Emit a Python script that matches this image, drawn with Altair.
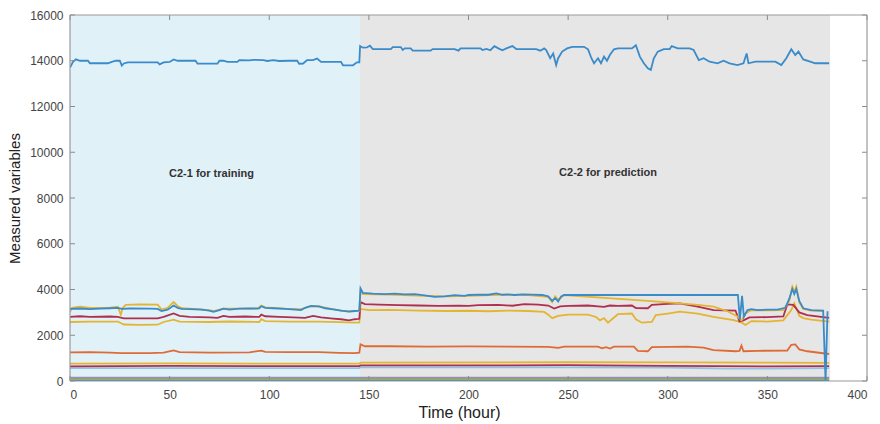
import altair as alt
import pandas as pd

# ---------------- data ----------------
# top blue series (~14000)
s1_t = [0, 1.5, 3, 5, 9, 10, 19, 21, 23, 25, 26, 27, 29, 44, 45, 47, 50, 52, 54, 63, 64, 74, 75, 77, 79, 84, 85, 90, 92, 97, 99, 102, 105, 110, 114, 115, 117, 119, 122, 124, 126, 136, 137, 142, 144, 145.2, 145.6, 147, 149, 150.5, 152, 161, 162, 166, 167, 168, 171, 172, 181, 182, 193, 195, 196, 206, 207, 209, 211, 213, 215, 217, 219, 222, 224, 234, 236, 238, 239, 241, 242.5, 244, 245, 247, 249.5, 252, 258, 260, 261.7, 263, 265, 266.5, 268, 269.5, 271, 273, 275, 282, 284, 286, 288, 290, 291.5, 293, 295, 298, 301, 302, 305, 311, 313, 315.6, 318, 321, 325, 328, 331, 335, 338, 339.6, 340.5, 344, 354, 357, 359.5, 362, 364, 365.6, 368, 371.5, 374, 381]
s1_v = [13700, 13950, 14060, 14000, 14000, 13890, 13890, 13950, 14000, 14000, 13790, 13880, 13930, 13930, 13840, 13930, 13950, 14060, 14000, 14000, 13870, 13870, 14000, 14000, 13950, 13950, 14030, 14020, 14040, 14030, 13990, 14030, 13990, 14000, 14000, 13870, 13880, 14030, 14030, 14100, 13950, 13950, 13800, 13800, 13930, 13930, 14640, 14570, 14580, 14660, 14510, 14510, 14600, 14600, 14470, 14540, 14540, 14440, 14440, 14510, 14510, 14440, 14540, 14540, 14470, 14520, 14460, 14640, 14540, 14460, 14540, 14640, 14510, 14510, 14440, 14540, 14470, 14110, 14320, 13810, 14110, 14400, 14540, 14610, 14610, 14500, 14110, 13890, 14110, 13890, 14180, 14000, 14260, 14500, 14540, 14540, 14680, 14180, 13890, 13670, 13600, 14110, 14400, 14510, 14510, 14640, 14540, 14540, 14470, 14030, 14110, 13960, 13890, 14000, 13890, 13810, 13890, 14320, 13890, 13960, 13960, 13810, 14110, 14500, 14250, 14400, 14060, 13960, 13890, 13890]

# blue series (~3150 / 3800)
s2_t = [0, 5, 10, 15, 20, 24, 26, 30, 40, 44, 46, 49, 52, 54, 56, 60, 66, 70, 72, 75, 77, 80, 85, 90, 95, 96, 98, 102, 108, 113, 116, 118, 121, 125, 128, 132, 136, 140, 143, 145.2, 145.8, 147, 152, 158, 163, 168, 173, 178, 183, 188, 193, 198, 200, 205, 210, 214, 217, 220, 223, 227, 232, 237, 240, 242, 243.5, 245, 246.5, 248, 335.2, 336.2, 337.3, 338.2, 340, 342, 345, 350, 355, 359, 361, 362.5, 363.5, 364.5, 366, 368, 372, 378, 379.2, 380.2]
s2_v = [3150, 3170, 3140, 3160, 3180, 3200, 3150, 3170, 3160, 3150, 3060, 3120, 3300, 3200, 3150, 3140, 3120, 3080, 3020, 3100, 3160, 3120, 3160, 3170, 3180, 3270, 3200, 3180, 3150, 3120, 3100, 3200, 3280, 3260, 3180, 3130, 3080, 3030, 3060, 3080, 4050, 3850, 3820, 3800, 3820, 3790, 3800, 3740, 3680, 3700, 3750, 3720, 3760, 3780, 3770, 3830, 3770, 3790, 3760, 3790, 3780, 3760, 3700, 3500, 3620, 3480, 3700, 3760, 3760, 2680, 3720, 2800, 3100, 3140, 3100, 3120, 3120, 3200, 3600, 4020, 3800, 4020, 3500, 3180, 3100, 3080, 0, 3050]

# upper yellow series
s3_t = [0, 1, 5, 10, 20, 24, 25.5, 26.5, 28, 35, 44, 46, 49, 52, 54, 56, 66, 72, 77, 90, 94, 96, 98, 108, 116, 120, 125, 130, 136, 140, 145.2, 145.8, 147, 160, 178, 190, 200, 215, 230, 240, 242, 243.5, 245, 246.5, 248, 270, 290, 306, 315, 323, 330, 335, 337, 339, 342, 350, 358, 361, 362.5, 363.5, 364.5, 366, 368, 372, 378]
s3_v = [3020, 3200, 3250, 3200, 3210, 3250, 2900, 3200, 3330, 3350, 3340, 3120, 3200, 3450, 3280, 3180, 3130, 3060, 3160, 3160, 3150, 3300, 3220, 3160, 3140, 3250, 3260, 3170, 3080, 3050, 3070, 3950, 3800, 3780, 3720, 3700, 3720, 3770, 3750, 3680, 3450, 3700, 3550, 3650, 3760, 3620, 3500, 3390, 3330, 3250, 3050, 2820, 2650, 2950, 3100, 3090, 3100, 3500, 4120, 3900, 4120, 3450, 3150, 3080, 3060]

# red series (~2800 / 3300)
s4_t = [0, 5, 10, 20, 24, 27, 35, 44, 47, 52, 55, 60, 70, 74, 77, 80, 88, 95, 96, 98, 105, 112, 118, 122, 126, 132, 136, 140, 143, 145.2, 145.8, 148, 155, 165, 175, 185, 195, 200, 205, 215, 222, 228, 235, 240, 243, 246, 250, 260, 265, 268, 271, 275, 282, 284, 290, 292, 300, 306, 315, 323, 334, 336, 338, 341, 350, 358, 360, 363, 366, 370, 381]
s4_v = [2800, 2830, 2800, 2820, 2800, 2740, 2740, 2740, 2800, 2950, 2850, 2800, 2780, 2760, 2850, 2800, 2820, 2800, 2900, 2830, 2800, 2780, 2760, 2850, 2780, 2730, 2700, 2650, 2700, 2720, 3450, 3360, 3340, 3320, 3300, 3280, 3290, 3280, 3320, 3330, 3290, 3360, 3340, 3300, 3170, 3260, 3280, 3300, 3260, 3240, 3300, 3280, 3300, 3190, 3180, 3330, 3370, 3390, 3250, 3100, 3080, 2600, 2650, 2780, 2790, 2820, 3350, 3330, 3000, 2880, 2760]

# lower yellow series (~2600 / 3100)
s5_t = [0, 10, 24, 27, 35, 44, 47, 52, 55, 70, 80, 95, 96, 98, 110, 125, 135, 143, 145.2, 145.8, 150, 160, 175, 190, 200, 210, 220, 230, 238, 240, 242, 245, 250, 260, 264, 266, 268, 270, 272, 275, 282, 284, 287, 292, 294, 300, 306, 315, 323, 333, 337, 339, 342, 350, 358, 362, 363.5, 364.5, 366, 368, 372, 381]
s5_v = [2580, 2600, 2600, 2470, 2450, 2460, 2580, 2680, 2600, 2580, 2600, 2580, 2700, 2620, 2600, 2600, 2570, 2550, 2560, 3150, 3100, 3110, 3080, 3060, 3070, 3050, 3080, 3060, 3020, 2900, 2750, 2850, 2900, 2900, 2800, 2650, 2750, 2550, 2700, 2920, 2950, 2700, 2550, 2580, 2880, 2950, 3030, 2950, 2800, 2660, 2560, 2450, 2620, 2600, 2650, 3100, 3400, 3200, 2850, 2750, 2680, 2600]

# orange series (~1250 / 1500)
s6_t = [0, 10, 20, 26, 40, 47, 52, 55, 70, 90, 96, 98, 110, 125, 135, 143, 145.2, 145.8, 148, 160, 180, 200, 220, 240, 245, 248, 265, 267, 269, 271, 273, 283, 285, 290, 292, 310, 318, 323, 334, 336, 337, 338, 345, 360, 362, 364, 366, 370, 381]
s6_v = [1250, 1260, 1240, 1220, 1220, 1240, 1340, 1260, 1240, 1250, 1330, 1270, 1260, 1260, 1230, 1220, 1240, 1600, 1520, 1520, 1500, 1510, 1500, 1490, 1450, 1500, 1500, 1430, 1480, 1420, 1500, 1500, 1320, 1300, 1480, 1500, 1460, 1350, 1300, 1320, 1550, 1300, 1320, 1330, 1580, 1600, 1380, 1300, 1180]

# nearly flat series
s7_t = [0, 50, 100, 145.2, 145.8, 250, 300, 350, 381]
s7_v = [760, 770, 760, 760, 800, 820, 810, 800, 790]
s8_t = [0, 50, 100, 145.2, 145.8, 250, 300, 350, 381]
s8_v = [640, 660, 650, 650, 680, 690, 660, 640, 650]
s9_t = [0, 50, 100, 145.2, 145.8, 250, 300, 330, 350, 381]
s9_v = [560, 565, 560, 560, 600, 600, 590, 540, 540, 560]
s10_t = [0, 145, 381]
s10_v = [150, 150, 150]
s11_t = [0, 145, 381]
s11_v = [90, 90, 90]
s12_t = [0, 145, 381]
s12_v = [15, 15, 15]

# series colours, in drawing order
series = [
    ("s12", s12_t, s12_v, "#2f7fc4"),
    ("s11", s11_t, s11_v, "#86a846"),
    ("s10", s10_t, s10_v, "#9a8fb8"),
    ("s9", s9_t, s9_v, "#8fc3e6"),
    ("s8", s8_t, s8_v, "#b02e4e"),
    ("s7", s7_t, s7_v, "#e5b431"),
    ("s6", s6_t, s6_v, "#de6b35"),
    ("s5", s5_t, s5_v, "#e5b431"),
    ("s4", s4_t, s4_v, "#b02e4e"),
    ("s3", s3_t, s3_v, "#e5b431"),
    ("s2", s2_t, s2_v, "#3a8bc9"),
    ("s1", s1_t, s1_v, "#3a8bc9"),
]

# shaded phases
region_start = [0, 145.5]
region_end = [145.5, 381.5]
region_low = [0, 0]
region_high = [16000, 16000]
region_color = ["#e0f1f8", "#e6e6e6"]

# annotations
ann_t = [71, 270]
ann_v = [9050, 9100]
ann_text = ["C2-1 for training", "C2-2 for prediction"]

x_ticks = [0, 50, 100, 150, 200, 250, 300, 350, 400]
y_ticks = [0, 2000, 4000, 6000, 8000, 10000, 12000, 14000, 16000]

W, H = 797, 366

xscale = alt.Scale(domain=[0, 400], nice=False, zero=False)
yscale = alt.Scale(domain=[0, 16000], nice=False, zero=False)

regions = pd.DataFrame({"a": region_start, "b": region_end, "lo": region_low,
                        "hi": region_high, "c": region_color})
bg = alt.Chart(regions).mark_rect().encode(
    x=alt.X("a:Q", scale=xscale,
            axis=alt.Axis(values=x_ticks, format="d", title="Time (hour)", ticks=False,
                          domain=False, grid=False, labelPadding=8, labelFontSize=12,
                          labelColor="#444444", labelFont="Liberation Sans",
                          titleFont="Liberation Sans", titleFontSize=16,
                          titleFontWeight="normal", titleColor="#222222",
                          titlePadding=4, titleX=389)),
    x2="b:Q",
    y=alt.Y("lo:Q", scale=yscale,
            axis=alt.Axis(values=y_ticks, format="d", title="Measured variables", ticks=False,
                          domain=False, grid=False, labelPadding=7, labelFontSize=12,
                          labelColor="#444444", labelFont="Liberation Sans",
                          titleFont="Liberation Sans", titleFontSize=15,
                          titleFontWeight="normal", titleColor="#222222",
                          titleX=-56, titleY=183, titleBaseline="middle", titleAlign="center")),
    y2="hi:Q",
    color=alt.Color("c:N", scale=None),
)

layers = [bg]
for name, ts, vs, col in series:
    df = pd.DataFrame({"t": ts, "v": vs})
    layers.append(
        alt.Chart(df).mark_line(color=col, strokeWidth=1.8, clip=True).encode(
            x=alt.X("t:Q", scale=xscale),
            y=alt.Y("v:Q", scale=yscale),
        )
    )

ann = pd.DataFrame({"t": ann_t, "v": ann_v, "txt": ann_text})
layers.append(
    alt.Chart(ann).mark_text(font="Liberation Sans", fontSize=11, fontWeight="bold",
                             color="#333333").encode(
        x=alt.X("t:Q", scale=xscale), y=alt.Y("v:Q", scale=yscale), text="txt:N")
)

# inward tick marks (MATLAB style) on all four sides
xt = pd.DataFrame({"t": x_ticks})
yt = pd.DataFrame({"v": y_ticks})
tick_col = "#8a8a8a"
layers.append(alt.Chart(xt).mark_rule(color=tick_col, strokeWidth=1).encode(
    x=alt.X("t:Q", scale=xscale), y=alt.value(H), y2=alt.value(H - 5)))
layers.append(alt.Chart(xt).mark_rule(color=tick_col, strokeWidth=1).encode(
    x=alt.X("t:Q", scale=xscale), y=alt.value(0), y2=alt.value(5)))
layers.append(alt.Chart(yt).mark_rule(color=tick_col, strokeWidth=1).encode(
    y=alt.Y("v:Q", scale=yscale), x=alt.value(0), x2=alt.value(5)))
layers.append(alt.Chart(yt).mark_rule(color=tick_col, strokeWidth=1).encode(
    y=alt.Y("v:Q", scale=yscale), x=alt.value(W), x2=alt.value(W - 5)))

# frame
frame = pd.DataFrame({"x0": [0, 0, 0, 400], "x1": [400, 400, 0, 400],
                      "y0": [0, 16000, 0, 0], "y1": [0, 16000, 16000, 16000]})
layers.append(alt.Chart(frame).mark_rule(color="#9a9a9a", strokeWidth=1.2).encode(
    x=alt.X("x0:Q", scale=xscale), x2="x1:Q",
    y=alt.Y("y0:Q", scale=yscale), y2="y1:Q"))

chart = alt.layer(*layers).properties(
    width=W, height=H,
    autosize=alt.AutoSizeParams(type="none"),
    padding={"left": 70, "top": 15, "right": 13, "bottom": 43},
    background="white",
).configure_view(stroke=None)

chart.save("out.html", embed_options={"renderer": "svg", "actions": False})
